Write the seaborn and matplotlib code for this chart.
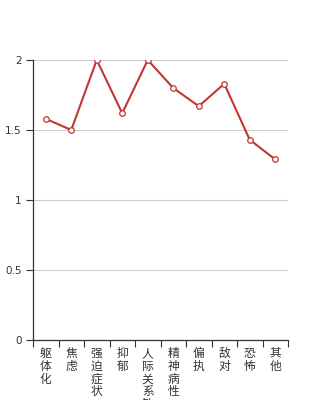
import matplotlib
matplotlib.use("Agg")
import matplotlib.pyplot as plt
import seaborn as sns
import pandas as pd
import numpy as np

categories = ["躯体化", "焦虑", "强迫症状", "抑郁", "人际关系敏感", "精神病性", "偏执", "敌对", "恐怖", "其他"]
values = [1.58, 1.50, 2.00, 1.62, 2.00, 1.80, 1.67, 1.83, 1.43, 1.29]
y_ticks = [0, 0.5, 1, 1.5, 2]
y_tick_labels = ["0", "0.5", "1", "1.5", "2"]

sns.set_theme(style="white")
plt.rcParams['font.family'] = ['Noto Sans CJK SC', 'DejaVu Sans']

fig = plt.figure(figsize=(3.2, 4.0), dpi=100)
ax = fig.add_axes([33/320, 1 - 340/400, (288 - 33)/320, (340 - 60)/400])

df = pd.DataFrame({"cat": categories, "val": values})
sns.lineplot(data=df, x="cat", y="val", ax=ax, color="#c23531", linewidth=1.5,
             marker="o", markersize=4, markerfacecolor="white",
             markeredgecolor="#c23531", markeredgewidth=0.9, sort=False, zorder=3)

ax.set_xlim(-0.5, len(categories) - 0.5)
ax.set_ylim(0, 2)
ax.set_yticks(y_ticks)
ax.set_yticklabels(y_tick_labels, fontsize=7.5, color="#333333", family=['DejaVu Sans'])
ax.yaxis.grid(True, color="#cccccc", linewidth=0.8)
ax.set_axisbelow(True)

ax.set_xticks(range(len(categories)))
ax.set_xticklabels(["\n".join(c) for c in categories], fontsize=8.5, color="#333333",
                   linespacing=0.98, va="top")
ax.tick_params(axis="x", which="major", length=0, pad=5, bottom=True)
ax.set_xticks(np.arange(-0.5, len(categories), 1), minor=True)
ax.tick_params(axis="x", which="minor", length=5, width=0.8, color="#333333",
               direction="out", bottom=True)
ax.tick_params(axis="y", length=5, width=0.8, color="#333333", direction="out", left=True, pad=3)

for s in ["top", "right"]:
    ax.spines[s].set_visible(False)
for s in ["left", "bottom"]:
    ax.spines[s].set_color("#333333")
    ax.spines[s].set_linewidth(0.9)

ax.set_xlabel("")
ax.set_ylabel("")

fig.savefig("out.png", dpi=100)
